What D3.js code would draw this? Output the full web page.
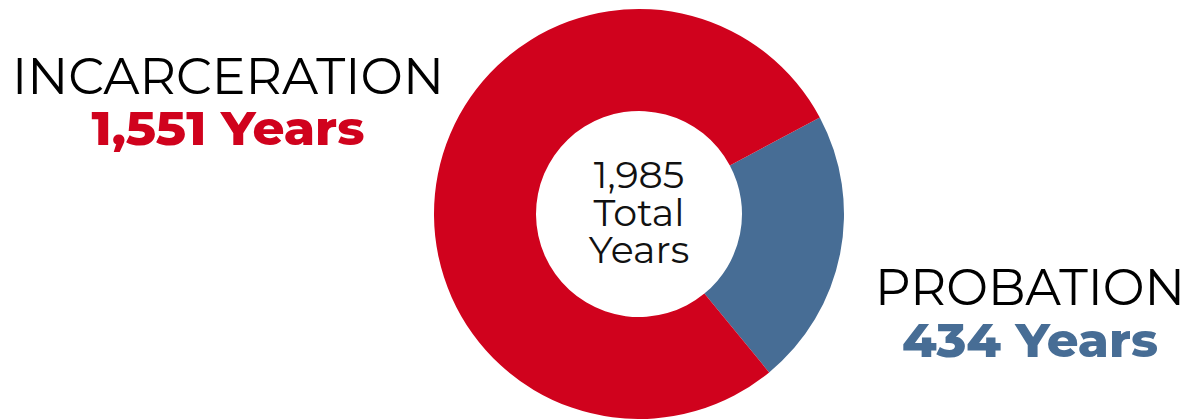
<!DOCTYPE html>
<html><head><meta charset="utf-8">
<script src="https://cdn.jsdelivr.net/npm/d3@7"></script>
<style>html,body{margin:0;padding:0;background:#fff;}svg{display:block;}</style>
</head><body>
<svg id="c" width="1194" height="419"></svg>
<script>
const categories = ["PROBATION", "INCARCERATION"];
const values = [434, 1551];
const valueLabels = ["434 Years", "1,551 Years"];
const totalLabel = ["1,985", "Total", "Years"];
const colors = ["#476d95", "#d0021d"];

const svg = d3.select("#c");
const cx = 639, cy = 214, rOuter = 205, rInner = 103;
const startAngle = 1.08; // rotation so probation sits at right
const pie = d3.pie().sort(null).startAngle(startAngle).endAngle(startAngle + 2*Math.PI);
const arc = d3.arc().innerRadius(rInner).outerRadius(rOuter);
const g = svg.append("g").attr("transform", `translate(${cx},${cy})`);
g.selectAll("path").data(pie(values)).join("path")
  .attr("d", arc).attr("fill", (d,i)=>colors[i]);

const ff = "Montserrat, 'Open Sans', Lato, sans-serif";
g.selectAll("text.t").data(totalLabel).join("text")
  .attr("x", 0).attr("y", (d,i)=> -26 + i*37.5)
  .attr("text-anchor","middle").attr("font-family", ff)
  .attr("font-size", 38).attr("fill","#111").text(d=>d);

const labels = [
  {name: categories[1], val: valueLabels[1], color: colors[1], x: 228, y1: 94, y2: 145, w1: 432, w2: 273},
  {name: categories[0], val: valueLabels[0], color: colors[0], x: 1030, y1: 305, y2: 357, w1: 310, w2: 256}
];
labels.forEach(l => {
  svg.append("text").attr("x", l.x).attr("y", l.y1).attr("text-anchor","middle")
    .attr("font-family", ff).attr("font-size", 50).attr("fill","#000")
    .attr("textLength", l.w1).attr("lengthAdjust","spacingAndGlyphs").text(l.name);
  svg.append("text").attr("x", l.x).attr("y", l.y2).attr("text-anchor","middle")
    .attr("font-family", ff).attr("font-size", 47).attr("font-weight", 800).attr("fill", l.color)
    .attr("textLength", l.w2).attr("lengthAdjust","spacingAndGlyphs").text(l.val);
});
</script>
</body></html>
